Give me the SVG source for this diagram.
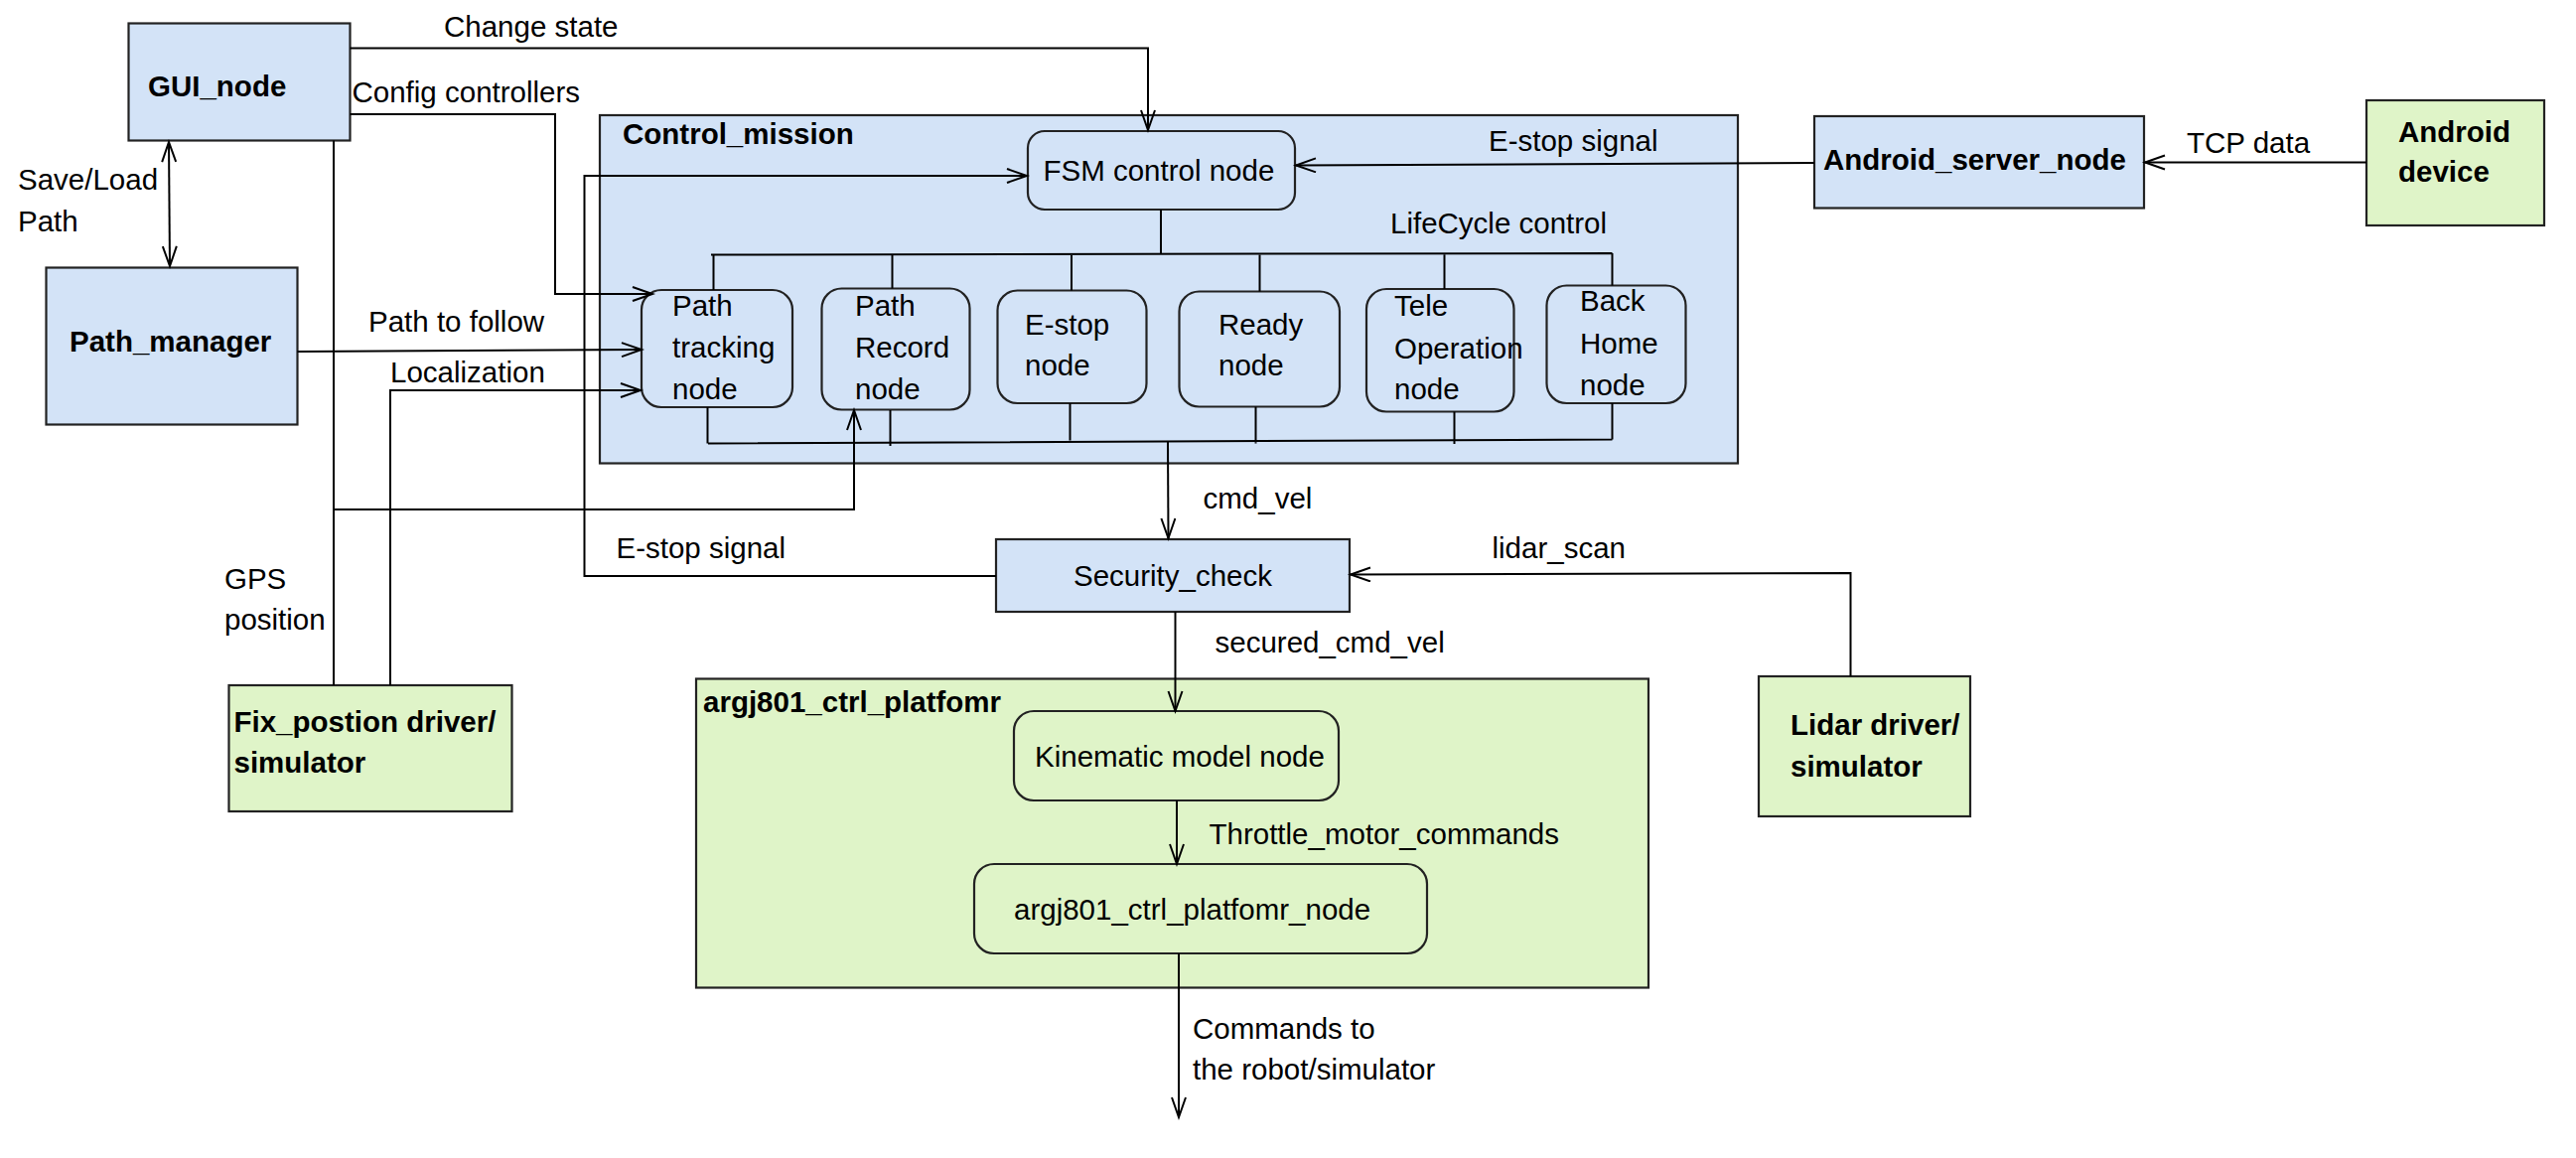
<svg xmlns="http://www.w3.org/2000/svg" width="2594" height="1166" viewBox="0 0 2594 1166">
<style>
text{font-family:"Liberation Sans",Arial,sans-serif;font-size:29.5px;fill:#000}
.b{font-weight:bold}
.blue{fill:#d3e3f7;stroke:#222;stroke-width:2.2}
.green{fill:#dff4c8;stroke:#222;stroke-width:2.2}
.ln{fill:none;stroke:#000;stroke-width:2}
.ar{marker-end:url(#arr)}
</style>
<defs>
<marker id="arr" markerUnits="userSpaceOnUse" markerWidth="26" markerHeight="20" refX="21" refY="8" orient="auto-start-reverse"><path d="M1,1 L21,8 L1,15" fill="none" stroke="#000" stroke-width="2"/></marker>
</defs>
<rect width="2594" height="1166" fill="#fff"/>

<g id="Control_mission">
<rect class="blue" x="604" y="116" width="1146" height="350.5"/>
<text class="b" x="627" y="145">Control_mission</text>
</g>
<g id="argj801_ctrl_platfomr">
<rect class="green" x="701" y="683.5" width="959" height="311"/>
<text class="b" x="708" y="716.5">argj801_ctrl_platfomr</text>
</g>

<g id="GUI_node"><rect class="blue" x="129.5" y="23.5" width="223" height="118"/><text class="b" x="149" y="96.5">GUI_node</text></g>
<g id="Path_manager"><rect class="blue" x="46.5" y="269.5" width="253" height="158"/><text class="b" x="70" y="354">Path_manager</text></g>
<g id="Fix_position"><rect class="green" x="230.5" y="690" width="285" height="127"/><text class="b" x="235.5" y="736.5">Fix_postion driver/</text><text class="b" x="235.5" y="778">simulator</text></g>
<g id="Android_server_node"><rect class="blue" x="1827" y="117" width="332" height="92.5"/><text class="b" x="1836" y="170.5">Android_server_node</text></g>
<g id="Android_device"><rect class="green" x="2383" y="101" width="179" height="126"/><text class="b" x="2415" y="143">Android</text><text class="b" x="2415" y="183">device</text></g>
<g id="Lidar_driver"><rect class="green" x="1771" y="681" width="213" height="141"/><text class="b" x="1803" y="740">Lidar driver/</text><text class="b" x="1803" y="781.5">simulator</text></g>
<g id="Security_check"><rect class="blue" x="1003" y="543" width="356" height="73"/><text x="1181" y="590" text-anchor="middle">Security_check</text></g>

<g id="FSM_control_node"><rect class="blue" x="1035" y="132" width="269" height="79" rx="17"/><text x="1050.5" y="181.5">FSM control node</text></g>
<g id="Path_tracking_node"><rect class="blue" x="646" y="292" width="152" height="118" rx="20"/><text x="677" y="318">Path</text><text x="677" y="360">tracking</text><text x="677" y="402">node</text></g>
<g id="Path_Record_node"><rect class="blue" x="827.5" y="290.5" width="149" height="122" rx="20"/><text x="861" y="318">Path</text><text x="861" y="360">Record</text><text x="861" y="402">node</text></g>
<g id="E-stop_node"><rect class="blue" x="1004.5" y="292.5" width="150" height="113.5" rx="20"/><text x="1032" y="336.5">E-stop</text><text x="1032" y="378">node</text></g>
<g id="Ready_node"><rect class="blue" x="1187.5" y="293.5" width="161.5" height="116" rx="20"/><text x="1227" y="337">Ready</text><text x="1227" y="378">node</text></g>
<g id="Tele_Operation_node"><rect class="blue" x="1376" y="291" width="148.5" height="123.5" rx="20"/><text x="1404" y="318">Tele</text><text x="1404" y="360.5">Operation</text><text x="1404" y="401.5">node</text></g>
<g id="Back_Home_node"><rect class="blue" x="1557.5" y="287.5" width="140" height="118.5" rx="20"/><text x="1591" y="313">Back</text><text x="1591" y="356">Home</text><text x="1591" y="397.5">node</text></g>
<g id="Kinematic_model_node"><rect class="green" x="1021" y="716" width="327" height="90" rx="20"/><text x="1042" y="771.5">Kinematic model node</text></g>
<g id="argj801_ctrl_platfomr_node"><rect class="green" x="981" y="870" width="456" height="90" rx="20"/><text x="1021" y="925.5">argj801_ctrl_platfomr_node</text></g>

<g id="connectors">
<path class="ln ar" d="M352.5,48.5 H1156 V131"/>
<path class="ln ar" d="M352.5,115 H559 V296 H657"/>
<path class="ln" d="M170,143 L171,268" marker-start="url(#arr)" marker-end="url(#arr)"/>
<path class="ln ar" d="M299.5,354 L646,352"/>
<path class="ln ar" d="M393,690 V393 H645"/>
<path class="ln" d="M336,141.5 V690"/>
<path class="ln ar" d="M336,513 H860 V413"/>
<path class="ln ar" d="M1003,580 H588.5 V177 H1034"/>
<path class="ln ar" d="M1827,164 L1305,166.5"/>
<path class="ln ar" d="M2383,163.5 L2160,163.5"/>
<path class="ln" d="M1169,211 V256 M716,256.5 L1623.5,255 M718.5,256.5 V292 M898.5,256 V290.5 M1079,256 V292.5 M1268.5,256 V293.5 M1454.5,255.5 V291 M1623.5,255 V287.5"/>
<path class="ln" d="M713,446.5 L1623.5,442.5 M712.5,410 V446.5 M896.5,413 V449 M1077.5,406 V443.5 M1264.5,409.5 V446.5 M1464.5,414.5 V447 M1623.5,406 V442.5"/>
<path class="ln ar" d="M1176,445 L1176.5,542"/>
<path class="ln ar" d="M1863.5,681 V577 L1360,578.5"/>
<path class="ln ar" d="M1183.5,616 V716"/>
<path class="ln ar" d="M1185,806 V870"/>
<path class="ln ar" d="M1187,960 V1125"/>
</g>

<g id="labels">
<text x="447" y="37">Change state</text>
<text x="354.5" y="103">Config controllers</text>
<text x="18" y="190.5">Save/Load</text>
<text x="18" y="233">Path</text>
<text x="371" y="334">Path to follow</text>
<text x="393" y="385">Localization</text>
<text x="226" y="592.5">GPS</text>
<text x="226" y="633.5">position</text>
<text x="620.5" y="561.5">E-stop signal</text>
<text x="1499" y="151.5">E-stop signal</text>
<text x="1400" y="235">LifeCycle control</text>
<text x="2202" y="154">TCP data</text>
<text x="1211.5" y="511.5">cmd_vel</text>
<text x="1502.5" y="561.5">lidar_scan</text>
<text x="1223.5" y="656.5">secured_cmd_vel</text>
<text x="1217.5" y="850">Throttle_motor_commands</text>
<text x="1201" y="1046">Commands to</text>
<text x="1201" y="1087">the robot/simulator</text>
</g>
</svg>
